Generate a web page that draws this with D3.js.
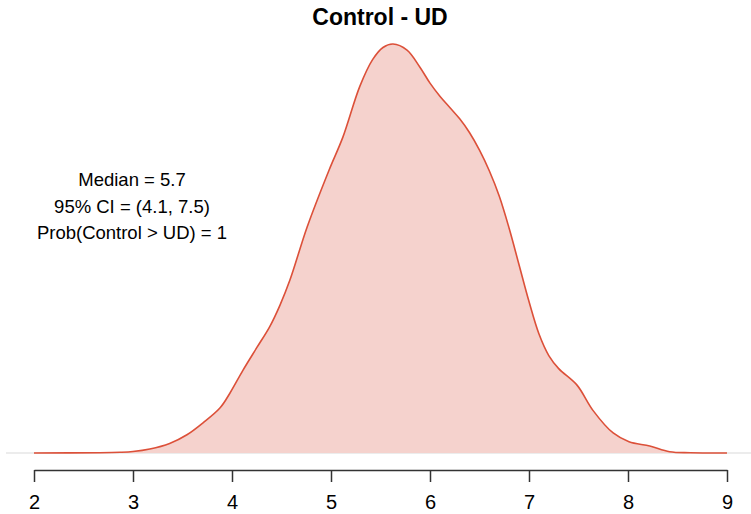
<!DOCTYPE html>
<html>
<head>
<meta charset="utf-8">
<script src="https://cdn.jsdelivr.net/npm/d3@7"></script>
<style>
  html, body { margin: 0; padding: 0; background: #fff; }
  svg { display: block; font-family: "Liberation Sans", Arial, Helvetica, sans-serif; }
</style>
</head>
<body>
<svg id="chart" width="751" height="514"></svg>
<script>
// Posterior density of the difference Control - UD
const diffValues = [2.00, 2.667, 2.87, 3.00, 3.17, 3.37, 3.545, 3.71, 3.88, 3.98, 4.11, 4.25, 4.38, 4.485, 4.586,
  4.76, 4.98, 5.12, 5.29, 5.42, 5.525, 5.626, 5.768, 5.90, 6.00, 6.10, 6.20, 6.30, 6.40, 6.50, 6.60, 6.70,
  6.80, 6.90, 7.00, 7.10, 7.20, 7.30, 7.485, 7.646, 7.85, 8.01, 8.22, 8.42, 8.63, 9.00];
const densityValues = [0, 0.0003, 0.0008, 0.0017, 0.0046, 0.011, 0.021, 0.035, 0.052, 0.069, 0.095, 0.121, 0.145, 0.170, 0.199,
  0.260, 0.325, 0.363, 0.421, 0.452, 0.466, 0.470, 0.463, 0.443, 0.425, 0.410, 0.397, 0.384, 0.368, 0.348, 0.324, 0.295,
  0.258, 0.216, 0.174, 0.137, 0.112, 0.097, 0.078, 0.049, 0.023, 0.013, 0.008, 0.0015, 0.0003, 0];
const xTicks = [2, 3, 4, 5, 6, 7, 8, 9];
const titleText = "Control - UD";
const summaryLines = ["Median = 5.7", "95% CI = (4.1, 7.5)", "Prob(Control > UD) = 1"];

const svg = d3.select("#chart");

const x = d3.scaleLinear().domain([2, 9]).range([34, 727]);
const y = d3.scaleLinear().domain([0, 0.47]).range([453, 44]);

const pts = diffValues.map((v, i) => [v, densityValues[i]]);

// zero line
svg.append("line")
  .attr("x1", 6).attr("x2", 751)
  .attr("y1", y(0)).attr("y2", y(0))
  .attr("stroke", "#d9d9d9").attr("stroke-width", 1);

// filled density
const area = d3.area()
  .x(d => x(d[0])).y0(y(0)).y1(d => y(d[1]))
  .curve(d3.curveCatmullRom.alpha(0.5));
svg.append("path").datum(pts)
  .attr("d", area)
  .attr("fill", "#f5d2cd");

const line = d3.line()
  .x(d => x(d[0])).y(d => y(d[1]))
  .curve(d3.curveCatmullRom.alpha(0.5));
svg.append("path").datum(pts)
  .attr("d", line)
  .attr("fill", "none")
  .attr("stroke", "#dc5039")
  .attr("stroke-width", 1.6);

// x axis
const axis = d3.axisBottom(x).tickValues(xTicks).tickFormat(d3.format("d"))
  .tickSize(12).tickPadding(13).tickSizeOuter(0);
const g = svg.append("g").attr("transform", "translate(0,470)").call(axis);
g.select(".domain").attr("stroke", "#333").attr("stroke-width", 1.5);
g.selectAll(".tick line").attr("stroke", "#333").attr("stroke-width", 1.5);
g.selectAll(".tick text")
  .attr("font-size", 20)
  .attr("font-family", "Liberation Sans, Arial, sans-serif")
  .attr("fill", "#000");

// title
svg.append("text")
  .attr("x", 380).attr("y", 25)
  .attr("text-anchor", "middle")
  .attr("font-size", 23).attr("font-weight", "bold")
  .attr("fill", "#000")
  .text(titleText);

// summary annotation
svg.append("g").selectAll("text")
  .data(summaryLines).join("text")
  .attr("x", 132)
  .attr("y", (d, i) => 186 + i * 26.5)
  .attr("text-anchor", "middle")
  .attr("font-size", 18.5)
  .attr("fill", "#000")
  .text(d => d);
</script>
</body>
</html>
